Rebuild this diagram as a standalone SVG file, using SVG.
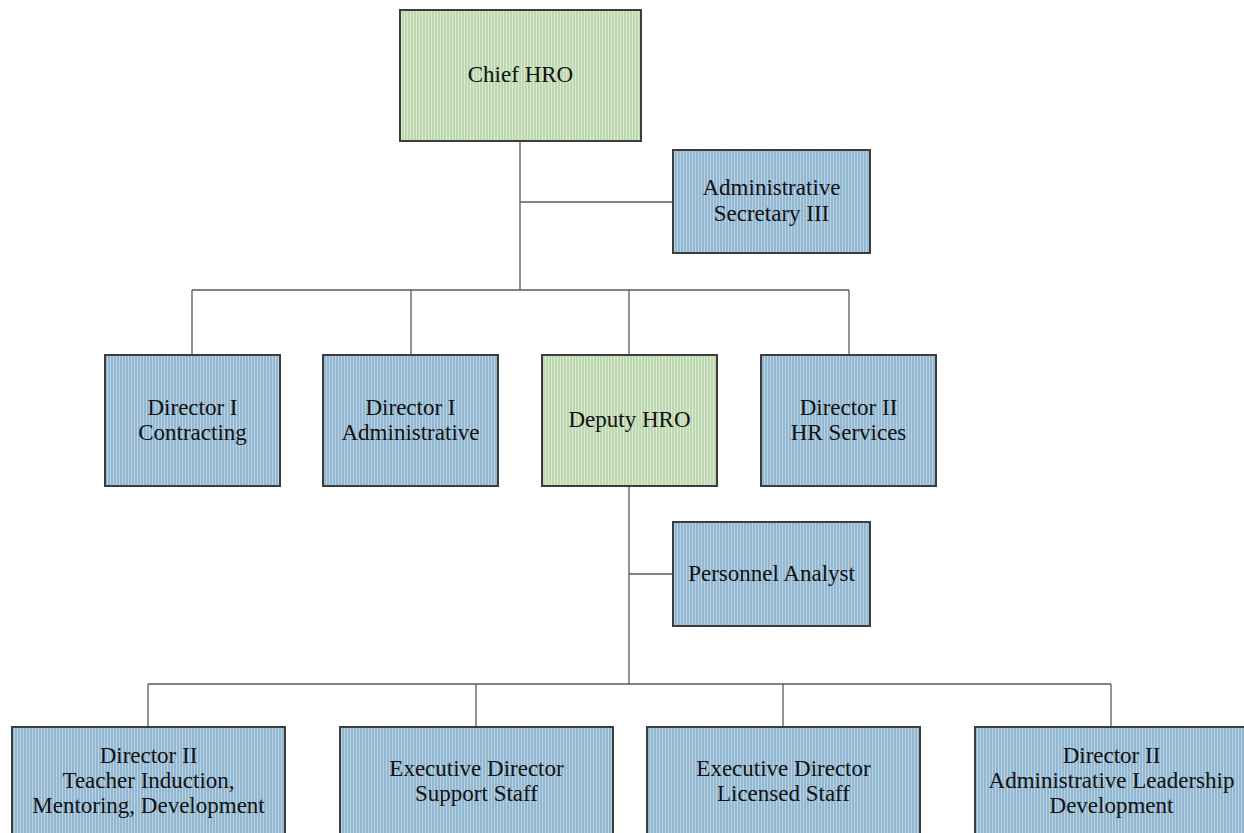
<svg xmlns="http://www.w3.org/2000/svg" width="1244" height="833" viewBox="0 0 1244 833">
  <defs>
    <pattern id="blueStripe" patternUnits="userSpaceOnUse" width="3" height="10">
      <rect width="3" height="10" fill="#92b7d1"/>
      <rect x="2" width="1" height="10" fill="#bcd3e4"/>
    </pattern>
    <pattern id="greenStripe" patternUnits="userSpaceOnUse" width="3" height="10">
      <rect width="3" height="10" fill="#bdd7b1"/>
      <rect x="2" width="1" height="10" fill="#dae9d2"/>
    </pattern>
  </defs>
  <style>
    .box { stroke: #3c3c3c; stroke-width: 2; }
    .blue { fill: url(#blueStripe); }
    .green { fill: url(#greenStripe); }
    .lbl { font-family: "Liberation Serif", "Times New Roman", serif; font-size: 23px; fill: #111; text-anchor: middle; }
    .conn line { stroke: #595959; stroke-width: 1.3; fill: none; }
  </style>
  <rect width="1244" height="833" fill="#ffffff"/>

  <g id="connectors" class="conn">
    <line x1="520" y1="141" x2="520" y2="290"/>
    <line x1="520" y1="202" x2="673" y2="202"/>
    <line x1="192" y1="290" x2="849" y2="290"/>
    <line x1="192" y1="290" x2="192" y2="355"/>
    <line x1="411" y1="290" x2="411" y2="355"/>
    <line x1="629" y1="290" x2="629" y2="355"/>
    <line x1="849" y1="290" x2="849" y2="355"/>
    <line x1="629" y1="486" x2="629" y2="684"/>
    <line x1="629" y1="574" x2="673" y2="574"/>
    <line x1="148" y1="684" x2="1111" y2="684"/>
    <line x1="148" y1="684" x2="148" y2="727"/>
    <line x1="476" y1="684" x2="476" y2="727"/>
    <line x1="783" y1="684" x2="783" y2="727"/>
    <line x1="1111" y1="684" x2="1111" y2="727"/>
  </g>

  <g id="chief-hro">
    <rect class="box green" x="400" y="10" width="241" height="131"/>
    <text class="lbl" x="520.5" y="82">Chief HRO</text>
  </g>

  <g id="admin-secretary">
    <rect class="box blue" x="673" y="150" width="197" height="103"/>
    <text class="lbl" x="771.5" y="195">Administrative</text>
    <text class="lbl" x="771.5" y="221">Secretary III</text>
  </g>

  <g id="director-contracting">
    <rect class="box blue" x="105" y="355" width="175" height="131"/>
    <text class="lbl" x="192.5" y="415">Director I</text>
    <text class="lbl" x="192.5" y="440">Contracting</text>
  </g>

  <g id="director-administrative">
    <rect class="box blue" x="323" y="355" width="175" height="131"/>
    <text class="lbl" x="410.5" y="415">Director I</text>
    <text class="lbl" x="410.5" y="440">Administrative</text>
  </g>

  <g id="deputy-hro">
    <rect class="box green" x="542" y="355" width="175" height="131"/>
    <text class="lbl" x="629.5" y="427">Deputy HRO</text>
  </g>

  <g id="director-hr-services">
    <rect class="box blue" x="761" y="355" width="175" height="131"/>
    <text class="lbl" x="848.5" y="415">Director II</text>
    <text class="lbl" x="848.5" y="440">HR Services</text>
  </g>

  <g id="personnel-analyst">
    <rect class="box blue" x="673" y="522" width="197" height="104"/>
    <text class="lbl" x="771.5" y="581">Personnel Analyst</text>
  </g>

  <g id="director-teacher-induction">
    <rect class="box blue" x="12" y="727" width="273" height="120"/>
    <text class="lbl" x="148.5" y="763">Director II</text>
    <text class="lbl" x="148.5" y="788">Teacher Induction,</text>
    <text class="lbl" x="148.5" y="813">Mentoring, Development</text>
  </g>

  <g id="exec-director-support">
    <rect class="box blue" x="340" y="727" width="273" height="120"/>
    <text class="lbl" x="476.5" y="776">Executive Director</text>
    <text class="lbl" x="476.5" y="801">Support Staff</text>
  </g>

  <g id="exec-director-licensed">
    <rect class="box blue" x="647" y="727" width="273" height="120"/>
    <text class="lbl" x="783.5" y="776">Executive Director</text>
    <text class="lbl" x="783.5" y="801">Licensed Staff</text>
  </g>

  <g id="director-admin-leadership">
    <rect class="box blue" x="975" y="727" width="273" height="120"/>
    <text class="lbl" x="1111.5" y="763">Director II</text>
    <text class="lbl" x="1111.5" y="788">Administrative Leadership</text>
    <text class="lbl" x="1111.5" y="813">Development</text>
  </g>
</svg>
